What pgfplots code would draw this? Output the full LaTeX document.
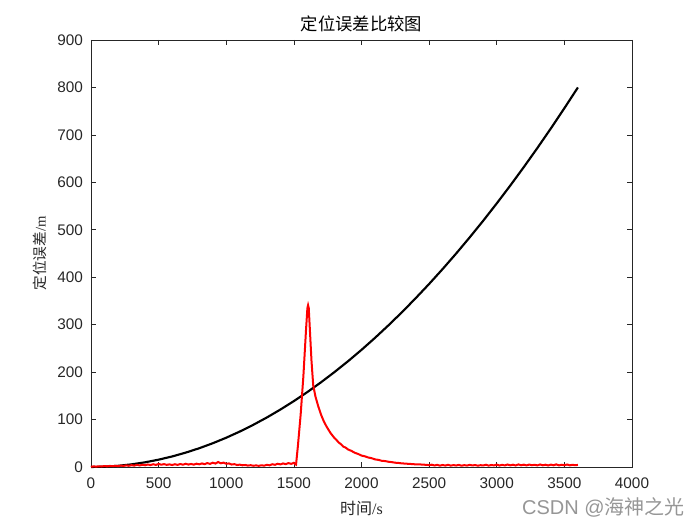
\documentclass[border=0pt]{standalone}
\usepackage{pgfplots}
\pgfplotsset{compat=1.18}
\usepackage{fontspec}
\setmainfont{Liberation Sans}
\newfontfamily\cjk{Noto Sans CJK SC}
\newfontfamily\serifl{Liberation Serif}
\definecolor{axgray}{RGB}{38,38,38}
\definecolor{wmgray}{RGB}{150,150,150}
\begin{document}
\begin{tikzpicture}
\begin{axis}[
  name=ax,
  scale only axis,
  width=405.75pt, height=320.25pt,
  xmin=0, xmax=4000, ymin=0, ymax=900,
  xtick={0,500,...,4000},
  ytick={0,100,...,900},
  tick align=inside,
  tick pos=both,
  major tick length=3.75pt,
  axis line style={axgray, line width=0.5pt},
  every tick/.style={axgray, line width=0.5pt},
  tick label style={font=\fontsize{11.5}{13}\selectfont, text=axgray},
  /pgf/number format/assume math mode=true,
  /pgf/number format/1000 sep={},
  scaled ticks=false,
  clip=false,
  xticklabel style={yshift=-4.5pt},
  yticklabel style={xshift=-2.5pt},
]
\addplot[black, line width=1.6pt] coordinates {
(0,0) (100,0.617) (200,2.47) (300,5.556) (400,9.88) (500,15.43) (600,22.2) (700,30.25)
(800,39.5) (900,50.0) (1000,61.7) (1100,74.69) (1200,88.9) (1300,104.3) (1400,121.0)
(1500,138.9) (1600,158.0) (1700,178.4) (1800,200) (1900,222.8) (2000,246.9) (2100,272.2)
(2200,298.8) (2300,326.5) (2400,355.6) (2500,385.8) (2600,417.3) (2700,450.0) (2800,484.0)
(2900,519.1) (3000,555.6) (3100,593.2) (3200,632.1) (3300,672.2) (3400,713.6) (3500,756.2) (3600,800)
};
\addplot[red, line width=1.5pt] coordinates {
(0,0.5) (20,1.2) (40,0.8) (60,1.5) (80,1.0) (100,2.0) (120,1.3) (140,2.2) (160,1.6) (180,2.5)
(200,1.8) (220,3.0) (240,2.2) (260,3.4) (280,2.5) (300,3.8) (320,2.9) (340,4.5) (360,3.2) (380,4.8)
(400,3.6) (420,5.2) (440,4.0) (460,5.8) (480,4.3) (500,6.5) (520,4.8) (540,6.0) (560,4.5) (580,5.5)
(600,4.2) (620,5.8) (640,4.4) (660,6.2) (680,4.9) (700,6.8) (720,5.1) (740,6.4) (760,5.0) (780,7.0)
(800,5.6) (820,7.5) (840,6.0) (860,8.2) (880,6.5) (900,9.0) (920,7.2) (940,10.5) (960,7.8) (980,9.2)
(1000,6.8) (1020,7.5) (1040,5.2) (1060,6.0) (1080,4.1) (1100,5.0) (1120,3.6) (1140,4.2) (1160,3.0) (1180,3.8)
(1200,2.6) (1220,3.4) (1240,2.4) (1260,3.6) (1280,2.8) (1300,4.5) (1320,3.5) (1340,5.8) (1360,4.6) (1380,6.8)
(1400,5.4) (1420,7.5) (1440,6.0) (1460,8.2) (1480,6.6) (1500,8.8) (1510,6.0) (1516,5)
(1530,45) (1550,110) (1570,190) (1590,290) (1600,335) (1605,341) (1610,335) (1620,280) (1630,225)
(1643,172) (1660,148) (1680,128) (1700,111) (1720,97) (1742,85) (1770,72) (1800,61) (1815,57)
(1830,52) (1848,48) (1865,43) (1882,41) (1900,37) (1925,34) (1950,30) (1975,27.5) (2000,24)
(2025,22.5) (2050,20) (2075,18.5) (2100,16) (2125,15) (2150,13) (2175,12.5) (2200,11) (2225,10.2)
(2250,9) (2275,8.5) (2300,7.5) (2325,7.2) (2350,6.5) (2375,6.2) (2400,5.5) (2425,5.6) (2450,5) (2475,4.6) (2500,4)
(2520,4.8) (2540,3.2) (2560,4.5) (2580,2.8) (2600,4.2) (2620,3.0) (2640,4.6) (2660,2.9) (2680,4.0) (2700,3.1)
(2720,4.4) (2740,2.7) (2760,3.9) (2780,3.0) (2800,4.5) (2820,3.2) (2840,4.1) (2860,2.8) (2880,3.8) (2900,3.3)
(2920,4.7) (2940,2.9) (2960,4.2) (2980,3.4) (3000,5.0) (3020,3.1) (3040,4.6) (3060,3.3) (3080,5.2) (3100,3.5)
(3120,4.8) (3140,3.2) (3160,5.4) (3180,3.6) (3200,4.9) (3220,3.3) (3240,5.1) (3260,3.7) (3280,4.6) (3300,3.4)
(3320,5.3) (3340,3.5) (3360,4.8) (3380,3.2) (3400,5.0) (3420,3.6) (3440,5.5) (3460,3.4) (3480,4.7) (3500,3.8)
(3520,5.2) (3540,3.5) (3560,4.6) (3580,3.7) (3600,4.4)
};
\node[font=\cjk\fontsize{13}{15}\selectfont, text=black] at ([yshift=12pt]rel axis cs:0.5,1) {定位误差比较图};
\node[font=\cjk\fontsize{12}{14}\selectfont, text=axgray] at ([yshift=-30.75pt]rel axis cs:0.5,0) {时间{\serifl/s}};
\node[font=\cjk\fontsize{11}{13}\selectfont, text=axgray, rotate=90] at ([xshift=-38.25pt]rel axis cs:0,0.5) {定位误差{\serifl/m}};
\node[font=\fontsize{15}{17}\selectfont, text=wmgray, anchor=east, inner sep=0pt] at ([xshift=39.75pt, yshift=-30pt]rel axis cs:1,0) {CSDN @{\cjk 海神之光}};
\end{axis}
\pgfresetboundingbox
\path ([shift={(-68.25pt,-43.5pt)}]ax.south west) rectangle ([shift={(51pt,30pt)}]ax.north east);
\end{tikzpicture}
\end{document}
